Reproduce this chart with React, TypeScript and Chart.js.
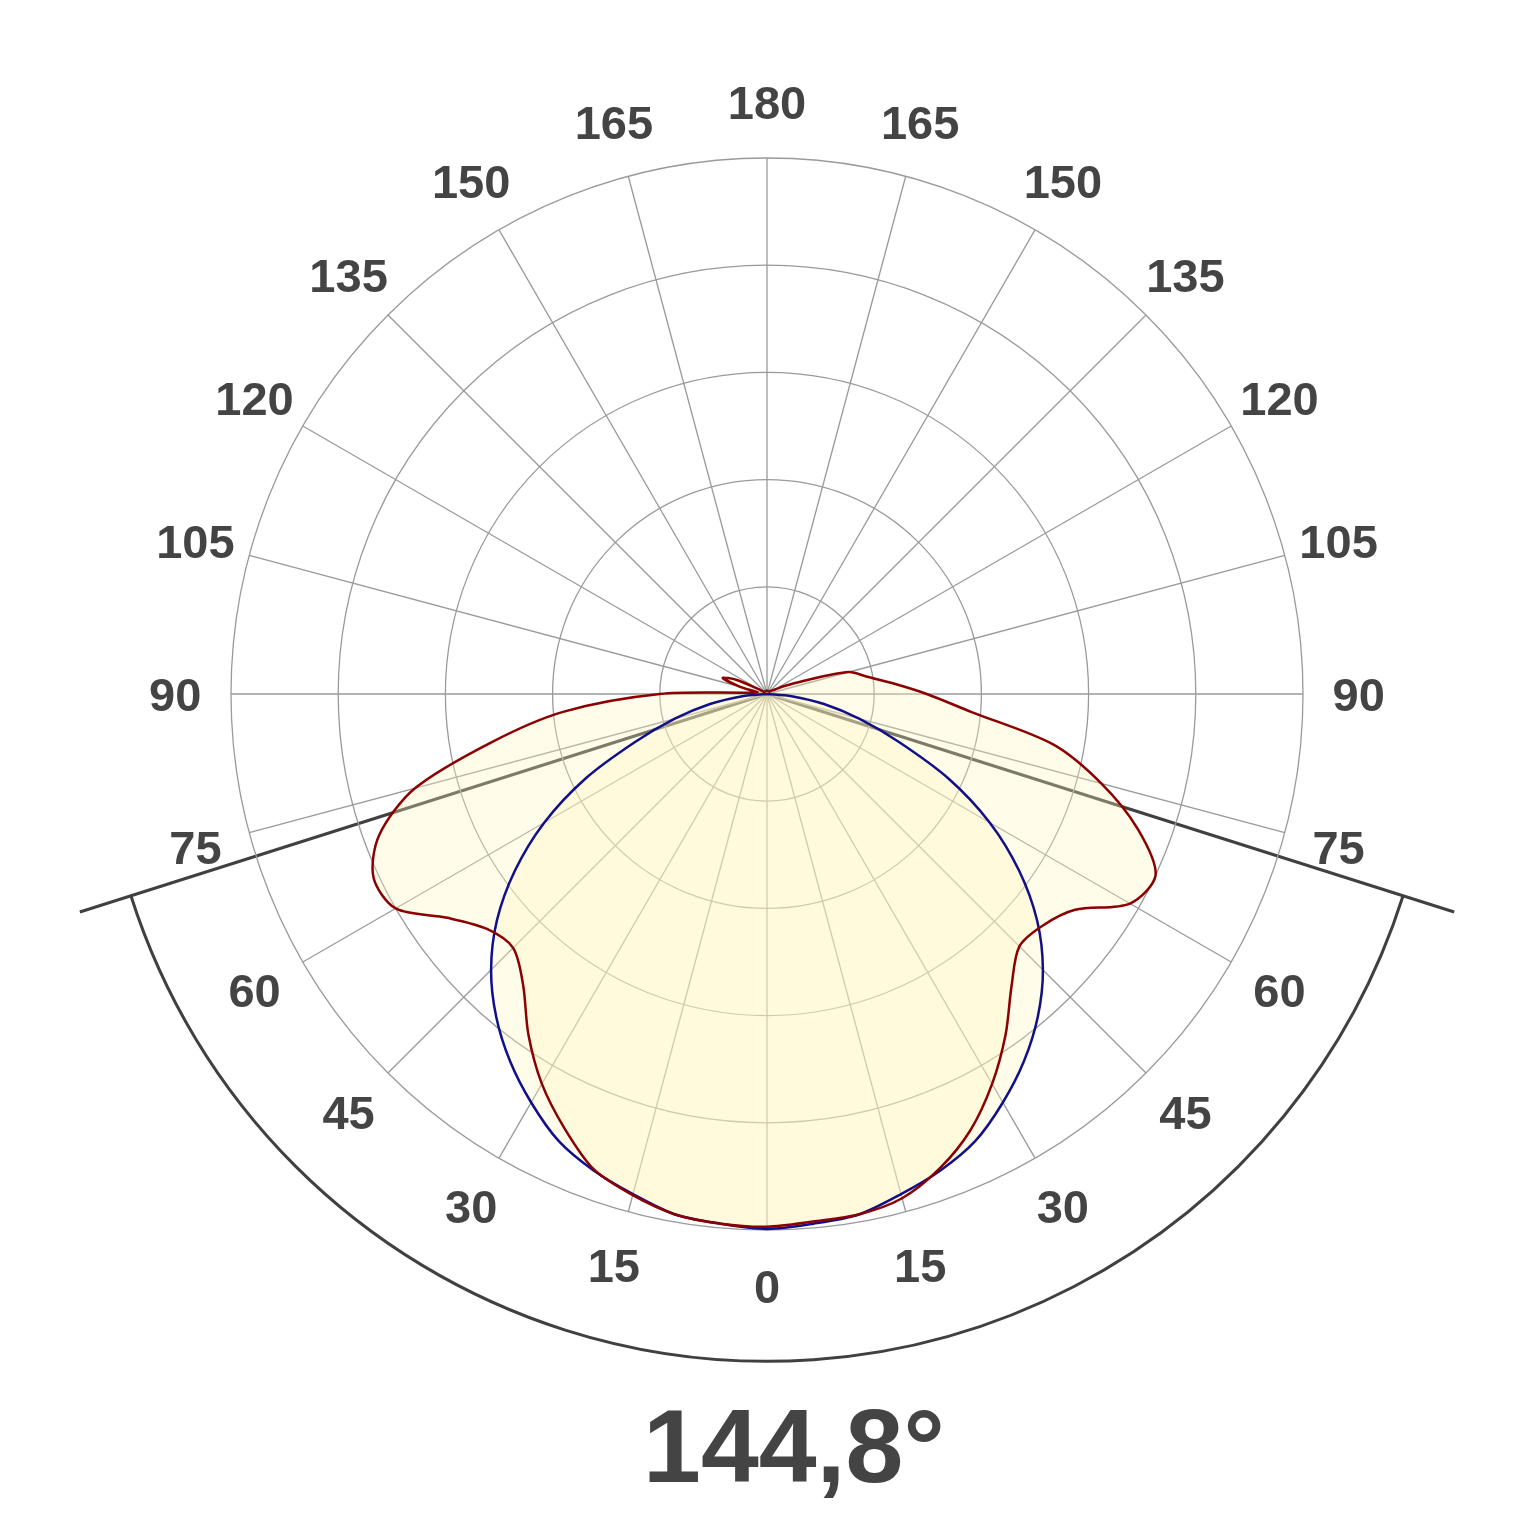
import React, { useEffect, useRef } from 'react';
import { Chart, registerables } from 'chart.js';

Chart.register(...registerables);

// Polar angles (degrees from nadir) of one half-plane, 5° step
const HALF_ANGLES = [
  0, 5, 10, 15, 20, 25, 30, 35, 40, 45, 50, 55, 60, 65, 70, 75, 80, 85, 90,
  95, 100, 105, 110, 115, 120, 125, 130, 135, 140, 145, 150, 155, 160, 165, 170, 175, 180,
];

// Luminous intensity, left half-plane (θ = 0..180)
const RED_LEFT = [
  497, 496, 493, 484, 472, 447, 420, 388, 354, 335, 341, 364, 400, 405, 385, 340, 262, 191, 100,
  14, 9, 26, 44, 31, 9, 4, 3, 3, 3, 3, 3, 3, 3, 3, 3, 3, 3,
];

// Luminous intensity, right half-plane (θ = 0..180)
const RED_RIGHT = [
  496, 494, 493, 487, 471, 449, 420, 388, 355, 333, 336, 351, 391, 400, 368, 323, 271, 191, 149,
  117, 94, 79, 35, 17, 8, 6, 4, 3, 3, 3, 3, 3, 3, 3, 3, 3, 3,
];

// Reference (blue) distribution, symmetric (θ = 0..180)
const BLUE_HALF = [
  499, 496, 493, 483, 473, 460, 440, 418, 393, 364, 329, 287, 240, 187, 131, 89, 54, 23, 0,
  0, 0, 0, 0, 0, 0, 0, 0, 0, 0, 0, 0, 0, 0, 0, 0, 0, 0,
];

// Angle tick labels shown around the diagram
const LABEL_ANGLES = [0, 15, 30, 45, 60, 75, 90, 105, 120, 135, 150, 165, 180];

const BEAM_ANGLE = 144.8;
const R_MAX = 500;
const R_STEP = 100;

// index 0..36 -> left side θ 0..180 (clockwise from bottom), 37..71 -> right side θ 175..5
const FULL_ANGLES = [...HALF_ANGLES, ...HALF_ANGLES.slice(1, -1).reverse()];
const toFull = (left: number[], right: number[]) => [...left, ...right.slice(1, -1).reverse()];

const TEXT_COLOR = '#444444';
const FONT_FAMILY = "Arial, 'Liberation Sans', sans-serif";

const polarDecor = {
  id: 'polarDecor',
  beforeDraw(chart: any) {
    const s = chart.scales.r;
    const ctx = chart.ctx as CanvasRenderingContext2D;
    const cx = s.xCenter;
    const cy = s.yCenter;
    const R = s.drawingArea;
    const half = ((BEAM_ANGLE / 2) * Math.PI) / 180;
    ctx.save();
    ctx.strokeStyle = '#404040';
    ctx.lineWidth = 3;
    ctx.lineCap = 'butt';
    const L = R * 1.345;
    ctx.beginPath();
    for (const sgn of [-1, 1]) {
      const a = Math.PI / 2 + sgn * half;
      ctx.moveTo(cx, cy);
      ctx.lineTo(cx + L * Math.cos(a), cy + L * Math.sin(a));
    }
    ctx.stroke();
    ctx.beginPath();
    ctx.arc(cx, cy, R * 1.245, Math.PI / 2 - half, Math.PI / 2 + half);
    ctx.stroke();
    ctx.restore();
  },
  afterDraw(chart: any) {
    const s = chart.scales.r;
    const ctx = chart.ctx as CanvasRenderingContext2D;
    const cx = s.xCenter;
    const cy = s.yCenter;
    const R = s.drawingArea;
    ctx.save();
    ctx.fillStyle = TEXT_COLOR;
    const fs = 47;
    ctx.font = `bold ${fs}px ${FONT_FAMILY}`;
    ctx.textAlign = 'center';
    ctx.textBaseline = 'alphabetic';
    FULL_ANGLES.forEach((a, i) => {
      if (!LABEL_ANGLES.includes(a)) return;
      const p = s.getPointPosition(i, R * 1.104);
      ctx.fillText(String(a), p.x, p.y + fs * 0.358);
    });
    const bfs = 104;
    ctx.font = `bold ${bfs}px ${FONT_FAMILY}`;
    const txt = BEAM_ANGLE.toFixed(1).replace('.', ',') + '°';
    ctx.textAlign = 'center';
    ctx.fillText(txt, cx + 27, cy + R * 1.47);
    ctx.restore();
  },
};

export default function App() {
  const ref = useRef<HTMLCanvasElement>(null);
  useEffect(() => {
    if (!ref.current) return;
    const chart = new Chart(ref.current, {
      type: 'radar',
      data: {
        labels: FULL_ANGLES.map(String),
        datasets: [
          {
            label: 'C0-C180',
            data: toFull(RED_LEFT, RED_RIGHT),
            borderColor: '#8b0000',
            borderWidth: 2.5,
            backgroundColor: 'rgba(255,246,190,0.32)',
            fill: true,
            pointRadius: 0,
            tension: 0.3,
          },
          {
            label: 'Reference',
            data: toFull(BLUE_HALF, BLUE_HALF),
            borderColor: '#10108a',
            borderWidth: 2.5,
            backgroundColor: 'rgba(255,246,190,0.32)',
            fill: true,
            pointRadius: 0,
            tension: 0.3,
          },
        ],
      },
      options: {
        responsive: false,
        animation: false,
        devicePixelRatio: 1,
        layout: { padding: { left: 231, right: 233, top: 158, bottom: 306 } },
        elements: { line: { borderJoinStyle: 'round' } },
        plugins: {
          legend: { display: false },
          tooltip: { enabled: false },
          title: { display: false },
          filler: { drawTime: 'beforeDatasetsDraw' },
        },
        scales: {
          r: {
            min: 0,
            max: R_MAX,
            startAngle: 180,
            ticks: { display: false, stepSize: R_STEP },
            grid: { circular: true, color: '#9a9a9a', lineWidth: 1.3 },
            angleLines: {
              display: true,
              color: '#9a9a9a',
              lineWidth: (c: any) => (LABEL_ANGLES.includes(FULL_ANGLES[c.index]) ? 1.3 : 0),
            },
            pointLabels: { display: false },
          },
        },
      },
      plugins: [polarDecor],
    } as any);
    return () => chart.destroy();
  }, []);
  return (
    <div style={{ position: 'absolute', left: 0, top: 0, width: 1536, height: 1536, background: '#fff' }}>
      <canvas ref={ref} width={1536} height={1536} style={{ display: 'block' }} />
    </div>
  );
}
